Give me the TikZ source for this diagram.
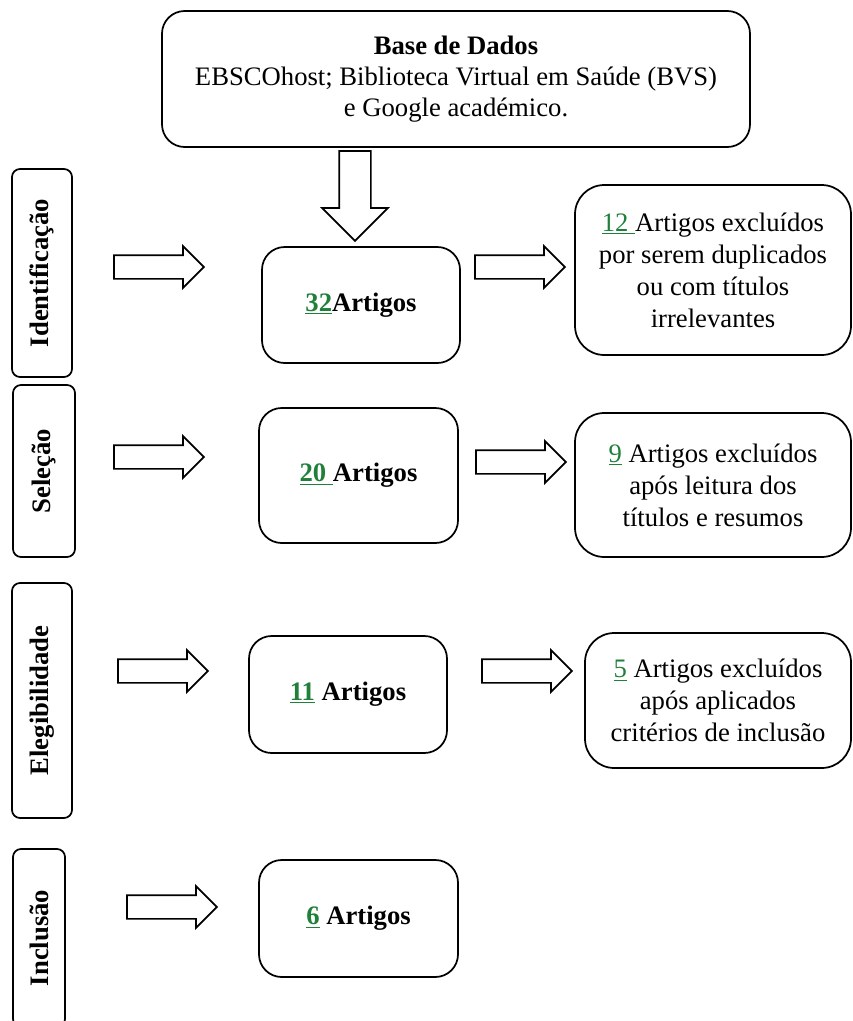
\documentclass[tikz,border=0pt]{standalone}
\usepackage{fontspec}
\setmainfont{Liberation Serif}
\usetikzlibrary{shapes.arrows}
\definecolor{numgreen}{RGB}{32,128,58}
\newcommand{\numul}[1]{\textcolor{numgreen}{\underline{#1}}}
\begin{document}
\begin{tikzpicture}[x=0.75pt, y=-0.75pt,
  every node/.style={font=\fontsize{20}{24}\selectfont},
  sized/.style 2 args={minimum width=#1*0.75pt, minimum height=#2*0.75pt},
  box/.style={draw, line width=1.3pt, rounded corners=17pt, align=center, inner sep=2pt},
  stagebox/.style={draw, line width=1.3pt, rounded corners=6pt, rotate=90, font=\fontsize{20}{24}\selectfont\bfseries, inner sep=0pt},
  fatarrow/.style={single arrow, draw, line width=1.3pt, inner xsep=0pt, inner ysep=8.25pt,
    single arrow head extend=6.75pt, minimum height=67.5pt},
  downarrow/.style={single arrow, draw, line width=1.3pt, inner xsep=0pt, inner ysep=11.25pt,
    single arrow head extend=12.75pt, minimum height=67.5pt, rotate=-90}]
\useasboundingbox (0,0) rectangle (853,1021);
% fontes
\node[box, sized={588}{136}, font=\fontsize{20}{23}\selectfont] (base) at (456,79)
  {\textbf{Base de Dados}\\EBSCOhost; Biblioteca Virtual em Saúde (BVS)\\e Google académico.};
\node[downarrow] (down) at (355,188) {};
% etapas
\node[stagebox, sized={208}{60}] (ident) at (42,273) {Identificação};
\node[stagebox, sized={172}{62}] (selec) at (44,471) {Seleção};
\node[stagebox, sized={235}{60}] (elegi) at (42,700.5) {Elegibilidade};
\node[stagebox, sized={178}{52}] (inclu) at (39,938) {Inclusão};
% artigos
\node[box, sized={198}{116}, font=\fontsize{20}{24}\selectfont\bfseries] (n32) at (361,305) {\numul{32}Artigos};
\node[box, sized={199}{135}, font=\fontsize{20}{24}\selectfont\bfseries] (n20) at (358.5,475.5) {\numul{20\ }Artigos};
\node[box, sized={198}{117}, font=\fontsize{20}{24}\selectfont\bfseries] (n11) at (348,694.5) {\numul{11} Artigos};
\node[box, sized={199}{117}, font=\fontsize{20}{24}\selectfont\bfseries] (n6) at (358.5,918.5) {\numul{6} Artigos};
% excluidos
\node[box, sized={276}{170}, rounded corners=22pt] (ex12) at (713,270)
  {\numul{12\ }Artigos excluídos\\por serem duplicados\\ou com títulos\\irrelevantes};
\node[box, sized={276}{144}, rounded corners=22pt] (ex9) at (713,485)
  {\numul{9} Artigos excluídos\\após leitura dos\\títulos e resumos};
\node[box, sized={266}{135}, rounded corners=22pt] (ex5) at (718,700.5)
  {\numul{5} Artigos excluídos\\após aplicados\\critérios de inclusão};
% setas
\node[fatarrow] (a1) at (153,267) {};
\node[fatarrow] (b1) at (514,267) {};
\node[fatarrow] (a2) at (153,457) {};
\node[fatarrow] (b2) at (515,462) {};
\node[fatarrow] (a3) at (157,671) {};
\node[fatarrow] (b3) at (521,671) {};
\node[fatarrow] (a4) at (166,907) {};
\end{tikzpicture}
\end{document}
